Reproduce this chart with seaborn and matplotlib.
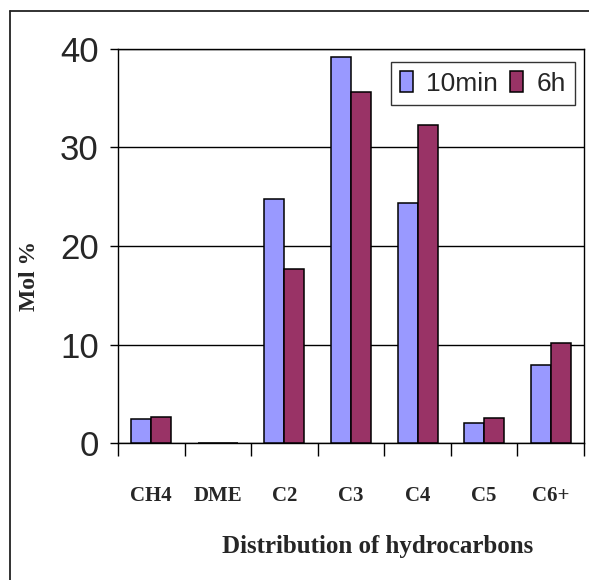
import matplotlib
matplotlib.use("Agg")
import matplotlib.pyplot as plt
from matplotlib.lines import Line2D
import seaborn as sns
import pandas as pd
import numpy as np

# Product distribution (mol %) after 10 min and 6 h on stream
categories = ["CH4", "DME", "C2", "C3", "C4", "C5", "C6+"]
series_names = ["10min", "6h"]
values_10min = [2.4, 0.0, 24.8, 39.2, 24.4, 2.0, 7.9]
values_6h = [2.6, 0.0, 17.7, 35.6, 32.3, 2.5, 10.2]
y_ticks = [0, 10, 20, 30, 40]

df = pd.DataFrame({
    "cat": categories * 2,
    "series": [series_names[0]] * len(categories) + [series_names[1]] * len(categories),
    "val": values_10min + values_6h,
})

sns.set_theme(style="white")
plt.rcParams["font.family"] = ["Liberation Sans", "DejaVu Sans"]

W, H = 589, 580
fig = plt.figure(figsize=(W / 100, H / 100), dpi=100)
ax = fig.add_axes([118 / W, 1 - 443 / H, (584 - 118) / W, (443 - 49) / H])

palette = {"10min": "#9999FF", "6h": "#993366"}
sns.barplot(data=df, x="cat", y="val", hue="series", order=categories,
            hue_order=series_names, palette=palette, width=0.6,
            edgecolor="black", linewidth=1.1, saturation=1, ax=ax, zorder=3)

ax.set_xlim(-0.5, len(categories) - 0.5)
ax.set_ylim(0, 40)

# gridlines
ax.set_yticks(y_ticks)
ax.set_yticklabels([str(t) for t in y_ticks], fontsize=25,
                   family=["Liberation Sans"])
ax.yaxis.grid(True, color="black", linewidth=1.0)
ax.xaxis.grid(False)
ax.set_axisbelow(True)

# category boundaries as major ticks, names centred as minor ticks
ax.set_xticks(np.arange(len(categories) + 1) - 0.5)
ax.set_xticklabels([])
ax.set_xticks(np.arange(len(categories)), minor=True)
ax.set_xticklabels(categories, minor=True, fontsize=15, fontweight="bold",
                   family=["Liberation Serif"])
ax.tick_params(axis="x", which="major", direction="out", length=9.2,
               width=1.0, color="black", bottom=True)
ax.tick_params(axis="x", which="minor", length=0, pad=31, bottom=True)
ax.tick_params(axis="y", which="major", direction="out", length=5.8,
               width=1.0, color="black", pad=8, left=True)

for s in ax.spines.values():
    s.set_visible(True)
    s.set_color("black")
    s.set_linewidth(1.0)

ax.set_xlabel("")
ax.set_ylabel("Mol %", fontsize=17, fontweight="bold",
              family=["Liberation Serif"], labelpad=0)
ax.yaxis.set_label_coords(-0.168, 0.425)
fig.text(378 / W, 1 - 547 / H, "Distribution of hydrocarbons", ha="center",
         va="center", fontsize=18, fontweight="bold",
         family=["Liberation Serif"])

leg = ax.legend(loc="upper right", bbox_to_anchor=(0.981, 0.967),
                ncol=2, fontsize=19, frameon=True, fancybox=False,
                borderpad=0.35, handlelength=0.5, handleheight=0.85,
                handletextpad=0.5, columnspacing=0.45, borderaxespad=0)
leg.get_frame().set_edgecolor("black")
leg.get_frame().set_linewidth(1.0)
for t in leg.get_texts():
    t.set_family(["Liberation Sans"])

# outer chart frame
fig.add_artist(Line2D([9.5 / W, 9.5 / W], [-0.05, 1 - 10.7 / H],
                      transform=fig.transFigure, color="#222222", linewidth=1.3))
fig.add_artist(Line2D([9.5 / W, 1.05], [1 - 10.7 / H, 1 - 10.7 / H],
                      transform=fig.transFigure, color="#222222", linewidth=1.3))

fig.savefig("out.png", dpi=100, facecolor="white")
